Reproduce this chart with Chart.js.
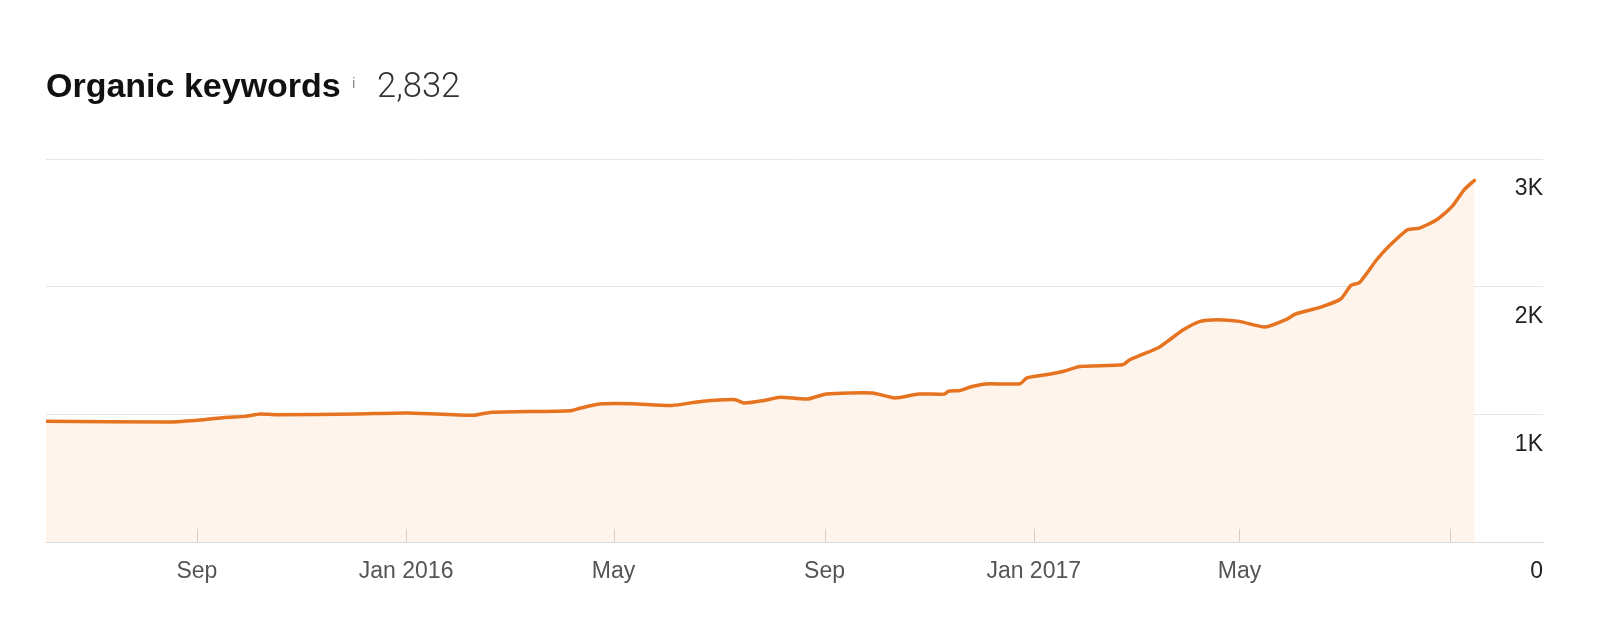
<!DOCTYPE html>
<html><head><meta charset="utf-8">
<script src="https://cdn.jsdelivr.net/npm/chart.js@4.4.1/dist/chart.umd.min.js"></script>
<style>
html,body{margin:0;padding:0;background:#fff;}
#wrap{position:relative;width:1600px;height:641px;overflow:hidden;}
canvas{position:absolute;left:0;top:0;}
.title{position:absolute;left:46px;top:69px;font:700 34px/33px "Liberation Sans",Arial,sans-serif;color:#111;white-space:nowrap;}
.info{position:absolute;left:352px;top:75px;font:400 15px/15px "Liberation Sans",Arial,sans-serif;color:#888;}
.count{position:absolute;left:377px;top:69px;font:300 34.5px/33px Roboto,"Liberation Sans",sans-serif;color:#333;white-space:nowrap;}
</style></head>
<body><div id="wrap"><canvas id="c" width="1600" height="641"></canvas>
<div class="title">Organic keywords</div><div class="info">i</div><div class="count">2,832</div></div>
<script>
const dates = ['2015-06-05','2015-08-15','2015-09-05','2015-09-17','2015-09-29','2015-10-08','2015-10-17','2015-12-03','2016-01-02','2016-02-09','2016-02-19','2016-04-06','2016-04-12','2016-04-23','2016-05-12','2016-06-04','2016-06-21','2016-07-11','2016-07-16','2016-07-28','2016-08-06','2016-08-22','2016-09-02','2016-09-29','2016-10-12','2016-10-26','2016-11-10','2016-11-12','2016-11-19','2016-11-25','2016-12-04','2016-12-24','2016-12-28','2017-01-08','2017-01-18','2017-01-28','2017-02-22','2017-02-26','2017-03-05','2017-03-15','2017-03-20','2017-03-29','2017-04-08','2017-04-18','2017-05-01','2017-05-16','2017-05-28','2017-06-03','2017-06-17','2017-06-29','2017-07-05','2017-07-10','2017-07-20','2017-07-27','2017-08-07','2017-08-14','2017-08-24','2017-09-02','2017-09-09','2017-09-15'];
const keywords = [945,940,958,976,984,1003,997,1003,1010,992,1015,1028,1050,1081,1083,1070,1101,1115,1089,1109,1134,1120,1159,1167,1128,1159,1159,1180,1187,1214,1238,1240,1285,1310,1336,1375,1389,1428,1467,1524,1571,1660,1728,1741,1728,1684,1741,1788,1838,1903,2010,2033,2211,2315,2446,2459,2524,2629,2759,2832];
const xTickDates = ['2015-09-01','2016-01-01','2016-05-01','2016-09-01','2017-01-01','2017-05-01','2017-09-01'];
const xTickLabels = ['Sep','Jan 2016','May','Sep','Jan 2017','May',''];
const xRange = ['2015-06-05','2017-10-25'];
const yTickValues = [0,1000,2000,3000];
const yTickLabels = ['0','1K','2K','3K'];

const DAY = 86400000;
const toDay = s => Date.parse(s + 'T00:00:00Z') / DAY;
const points = dates.map((d, i) => ({x: toDay(d), y: keywords[i]}));
const xTicks = xTickDates.map(toDay);

const tickMarks = {
  id: 'tickMarks',
  afterDatasetsDraw(chart) {
    const sc = chart.scales.x, ctx = chart.ctx;
    ctx.save();
    ctx.strokeStyle = '#cfcfcf';
    ctx.lineWidth = 1;
    xTicks.forEach(v => {
      const px = Math.round(sc.getPixelForValue(v)) + 0.5;
      ctx.beginPath();
      ctx.moveTo(px, chart.chartArea.bottom - 13);
      ctx.lineTo(px, chart.chartArea.bottom);
      ctx.stroke();
    });
    ctx.restore();
  }
};

new Chart(document.getElementById('c'), {
  type: 'line',
  data: {
    datasets: [{
      data: points,
      borderColor: '#e6731f',
      borderWidth: 3.5,
      backgroundColor: '#fef4ec',
      fill: 'origin',
      pointRadius: 0,
      tension: 0.2,
      borderCapStyle: 'round',
      borderJoinStyle: 'round'
    }]
  },
  options: {
    responsive: false,
    animation: false,
    devicePixelRatio: 1,
    layout: {padding: {left: 46, right: 57, top: 159, bottom: 0}},
    plugins: {legend: {display: false}, tooltip: {enabled: false}},
    scales: {
      x: {
        type: 'linear',
        min: toDay(xRange[0]),
        max: toDay(xRange[1]),
        afterBuildTicks: s => { s.ticks = xTicks.map(v => ({value: v})); },
        afterFit: s => { s.height = 99; },
        grid: {display: false, drawTicks: false},
        border: {display: true, color: '#dadada', width: 1},
        ticks: {
          autoSkip: false, maxRotation: 0, padding: 16,
          color: '#555',
          font: {family: '"Liberation Sans", Arial, sans-serif', size: 23},
          callback: (v, i) => xTickLabels[i]
        }
      },
      y: {
        position: 'right',
        min: 0, max: 3000,
        afterBuildTicks: s => { s.ticks = yTickValues.map(v => ({value: v})); },
        afterFit: s => { s.width = 0; },
        grid: {color: '#e6e6e6', lineWidth: 1, drawTicks: false},
        border: {display: false},
        ticks: {
          mirror: true, padding: 0, labelOffset: 30,
          color: '#222',
          font: {family: '"Liberation Sans", Arial, sans-serif', size: 23},
          callback: (v, i) => yTickLabels[i]
        }
      }
    }
  },
  plugins: [tickMarks]
});
</script>
</body></html>
